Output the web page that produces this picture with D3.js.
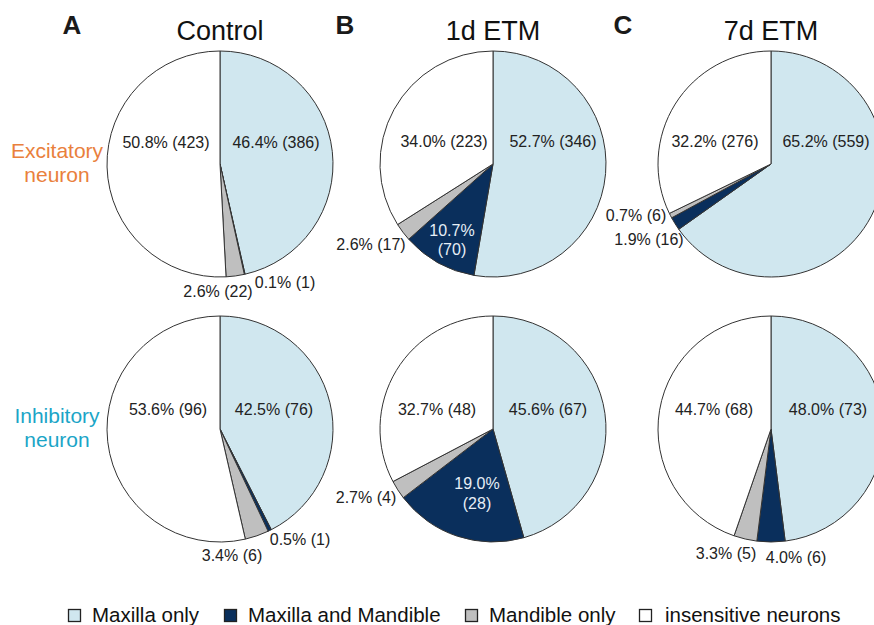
<!DOCTYPE html>
<html>
<head>
<meta charset="utf-8">
<script src="https://cdn.jsdelivr.net/npm/d3@7"></script>
<style>
  html, body { margin: 0; padding: 0; background: #fff; }
  svg text { font-family: "Liberation Sans", Arial, Helvetica, sans-serif; }
</style>
</head>
<body>
<svg id="chart" width="874" height="625"></svg>
<script>
// Response categories, in clockwise order from 12 o'clock
const categories = ["Maxilla only", "Maxilla and Mandible", "Mandible only", "insensitive neurons"];
const panelTitles = ["Control", "1d ETM", "7d ETM"];
const panelLetters = ["A", "B", "C"];
const rowLabels = [["Excitatory", "neuron"], ["Inhibitory", "neuron"]];

// Percent of neurons per category (per condition)
const excitatoryPct = [
  [46.4, 0.1, 2.6, 50.8],
  [52.7, 10.7, 2.6, 34.0],
  [65.2, 1.9, 0.7, 32.2]
];
const excitatoryN = [
  [386, 1, 22, 423],
  [346, 70, 17, 223],
  [559, 16, 6, 276]
];
const inhibitoryPct = [
  [42.5, 0.5, 3.4, 53.6],
  [45.6, 19.0, 2.7, 32.7],
  [48.0, 4.0, 3.3, 44.7]
];
const inhibitoryN = [
  [76, 1, 6, 96],
  [67, 28, 4, 48],
  [73, 6, 5, 68]
];

// Styling / layout
const colors = ["#d0e7ef", "#0a2f5c", "#bfbfbf", "#ffffff"];
const rowColors = ["#e9803c", "#1ba5c7"];
const colX = [220, 493, 771];
const rowY = [164, 429];
const radius = 113;

// Label offsets from pie centre [dx, dy-baseline] per category; two-line labels use a second baseline
const labelOffsets = [
  [ // excitatory
    [[56, -16], [65, 124], [-2, 133], [-54, -16]],
    [[60, -17], [-41, 72, 91], [-122, 86], [-49, -17]],
    [[55, -17], [-122, 81], [-135, 57], [-56, -17]]
  ],
  [ // inhibitory
    [[54, -14], [80, 116], [12, 132], [-52, -14]],
    [[55, -14], [-16, 60, 80], [-127, 74], [-56, -14]],
    [[57, -14], [25, 134], [-45, 130], [-57, -14]]
  ]
];

const svg = d3.select("#chart");
const pie = d3.pie().sort(null).value(d => d.pct);
const arc = d3.arc().innerRadius(0).outerRadius(radius);
const color = d3.scaleOrdinal().domain(categories).range(colors);

const rows = [
  { pct: excitatoryPct, n: excitatoryN },
  { pct: inhibitoryPct, n: inhibitoryN }
];

rows.forEach((row, ri) => {
  panelTitles.forEach((title, ci) => {
    const data = categories.map((c, k) => ({ cat: c, pct: row.pct[ci][k], n: row.n[ci][k], k }));
    const g = svg.append("g").attr("transform", `translate(${colX[ci]},${rowY[ri]})`);
    const arcs = pie(data);

    g.selectAll("path.slice")
      .data(arcs)
      .join("path")
      .attr("class", "slice")
      .attr("d", arc)
      .attr("fill", d => color(d.data.cat))
      .attr("stroke", "#333")
      .attr("stroke-width", 1)
      .attr("stroke-linejoin", "round");

    arcs.forEach(d => {
      const off = labelOffsets[ri][ci][d.data.k];
      const txt = `${d.data.pct.toFixed(1)}% (${d.data.n})`;
      const isDark = d.data.k === 1 && off.length === 3;
      if (off.length === 3) {
        const t = g.append("text")
          .attr("text-anchor", "middle")
          .attr("font-size", 16)
          .attr("fill", isDark ? "#e6eef6" : "#222");
        t.append("tspan").attr("x", off[0]).attr("y", off[1]).text(`${d.data.pct.toFixed(1)}%`);
        t.append("tspan").attr("x", off[0]).attr("y", off[2]).text(`(${d.data.n})`);
      } else {
        g.append("text")
          .attr("x", off[0])
          .attr("y", off[1])
          .attr("text-anchor", "middle")
          .attr("font-size", 16)
          .attr("fill", "#222")
          .text(txt);
      }
    });
  });
});

// Column titles and panel letters
panelTitles.forEach((t, ci) => {
  svg.append("text")
    .attr("x", colX[ci])
    .attr("y", 40)
    .attr("text-anchor", "middle")
    .attr("font-size", 27)
    .attr("fill", "#111")
    .text(t);
  svg.append("text")
    .attr("x", colX[ci] - 148)
    .attr("y", 34)
    .attr("text-anchor", "middle")
    .attr("font-size", 26)
    .attr("font-weight", "bold")
    .attr("fill", "#1a1a1a")
    .text(panelLetters[ci]);
});

// Row labels
rowLabels.forEach((lines, ri) => {
  const t = svg.append("text")
    .attr("text-anchor", "middle")
    .attr("font-size", 21)
    .attr("fill", rowColors[ri]);
  lines.forEach((ln, li) => {
    t.append("tspan")
      .attr("x", 57)
      .attr("y", rowY[ri] - 6 + li * 24)
      .text(ln);
  });
});

// Legend
const legendX = [68, 224, 465, 639];
const legend = svg.append("g");
categories.forEach((c, k) => {
  legend.append("rect")
    .attr("x", legendX[k] + 0.5)
    .attr("y", 609.5)
    .attr("width", 12)
    .attr("height", 12)
    .attr("fill", color(c))
    .attr("stroke", "#222")
    .attr("stroke-width", 1.3);
  legend.append("text")
    .attr("x", legendX[k] + (k === 3 ? 26 : 24))
    .attr("y", 622)
    .attr("font-size", 20.5)
    .attr("fill", "#111")
    .text(c);
});
</script>
</body>
</html>
